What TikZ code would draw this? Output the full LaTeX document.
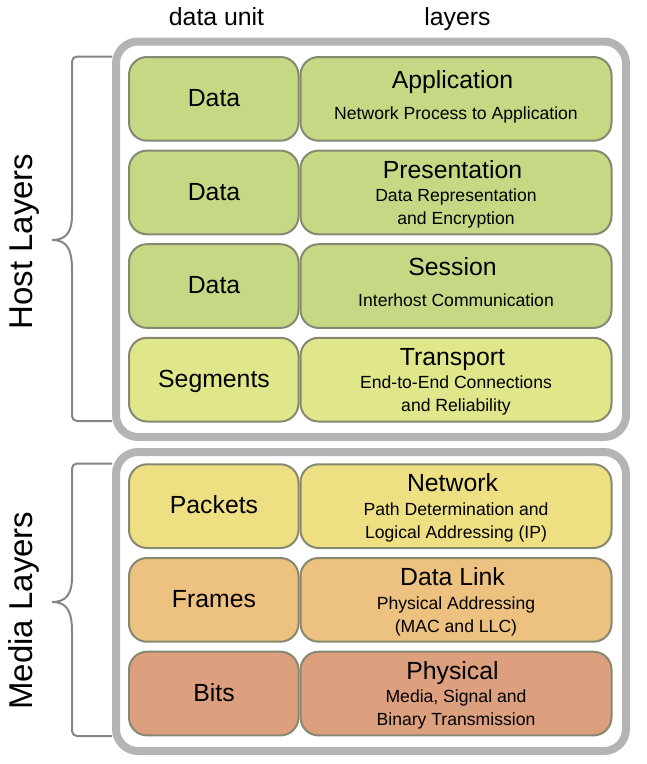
\documentclass[tikz,border=0pt]{standalone}
\usepackage{fontspec}
\setmainfont{Liberation Sans}

\definecolor{hostgreen}{HTML}{C5D985}
\definecolor{transportfill}{HTML}{E0E68A}
\definecolor{networkfill}{HTML}{EEE082}
\definecolor{linkfill}{HTML}{EDC17F}
\definecolor{physfill}{HTML}{DDA07E}
\definecolor{boxline}{HTML}{86886F}
\definecolor{framegray}{HTML}{B4B4B4}
\definecolor{bracegray}{HTML}{858585}

\tikzset{
  bigtext/.style={font=\fontsize{24.8}{29}\selectfont, inner sep=0pt, anchor=base},
  smalltext/.style={font=\fontsize{17.6}{21}\selectfont, inner sep=0pt, anchor=base},
  sidetext/.style={font=\fontsize{33}{40}\selectfont, inner sep=0pt, anchor=base, rotate=90},
  layerbox/.style={rectangle, draw=boxline, line width=2pt, rounded corners=18pt,
    anchor=north west, minimum height=83.7pt, inner sep=0pt, outer sep=0pt},
  framebox/.style={rectangle, draw=framegray, line width=8pt, rounded corners=22pt,
    anchor=north west, minimum width=510pt, inner sep=0pt, outer sep=0pt},
  braceline/.style={draw=bracegray, line width=2pt},
}

% two boxes of one layer: data unit on the left, layer name on the right
\newcommand\layerboxes[4]{%
  \node[layerbox, fill=#3, minimum width=169.5pt] (#1-unitbox) at (129,#2) {};
  \node[layerbox, fill=#3, minimum width=311pt] (#1-layerbox) at (300.5,#2) {};
  \node[bigtext] (#1-unit) at (214,#2+49.5) {#4};
}
% layer with a one-line description
\newcommand\layerone[6]{%
  \layerboxes{#1}{#2}{#3}{#4}
  \node[bigtext] (#1-title) at (452.5,#2+31) {#5};
  \node[smalltext] (#1-desc) at (456,#2+62) {#6};
}
% layer with a two-line description
\newcommand\layertwo[7]{%
  \layerboxes{#1}{#2}{#3}{#4}
  \node[bigtext] (#1-title) at (452.5,#2+27.5) {#5};
  \node[smalltext] (#1-desca) at (456,#2+51) {#6};
  \node[smalltext] (#1-descb) at (456,#2+74) {#7};
}

\begin{document}
\begin{tikzpicture}[x=1pt, y=-1pt]
  \useasboundingbox (0,0) rectangle (647,764);

  % column headings
  \node[bigtext] (head-unit) at (216.5,25) {data unit};
  \node[bigtext] (head-layers) at (457.5,25) {layers};

  % grey frames around the two groups
  \node[framebox, minimum height=395.5pt] (host) at (116,41.5) {};
  \node[framebox, minimum height=299pt] (media) at (116,452) {};

  % host layers
  \layerone{app}{57}{hostgreen}{Data}{Application}{Network Process to Application}
  \layertwo{pres}{150.6}{hostgreen}{Data}{Presentation}{Data Representation}{and Encryption}
  \layerone{sess}{244.2}{hostgreen}{Data}{Session}{Interhost Communication}
  \layertwo{trans}{337.8}{transportfill}{Segments}{Transport}{End-to-End Connections}{and Reliability}

  % media layers
  \layertwo{net}{464.3}{networkfill}{Packets}{Network}{Path Determination and}{Logical Addressing (IP)}
  \layertwo{link}{558}{linkfill}{Frames}{Data Link}{Physical Addressing}{(MAC and LLC)}
  \layertwo{phys}{651.7}{physfill}{Bits}{Physical}{Media, Signal and}{Binary Transmission}

  % curly brackets on the left
  \draw[braceline] (112,56.5) [rounded corners=5pt] -- (72,56.5) -- (72,210)
    [sharp corners] .. controls (72,231) and (67,240) .. (52,240)
    .. controls (67,240) and (72,249) .. (72,270)
    [rounded corners=5pt] -- (72,421) -- (112,421);
  \draw[braceline] (112,463.5) [rounded corners=5pt] -- (72,463.5) -- (72,572)
    [sharp corners] .. controls (72,593) and (67,602) .. (52,602)
    .. controls (67,602) and (72,611) .. (72,632)
    [rounded corners=5pt] -- (72,736) -- (112,736);

  \node[sidetext] (host-label) at (32.5,241.5) {Host Layers};
  \node[sidetext] (media-label) at (32.5,610.5) {Media Layers};
\end{tikzpicture}
\end{document}
